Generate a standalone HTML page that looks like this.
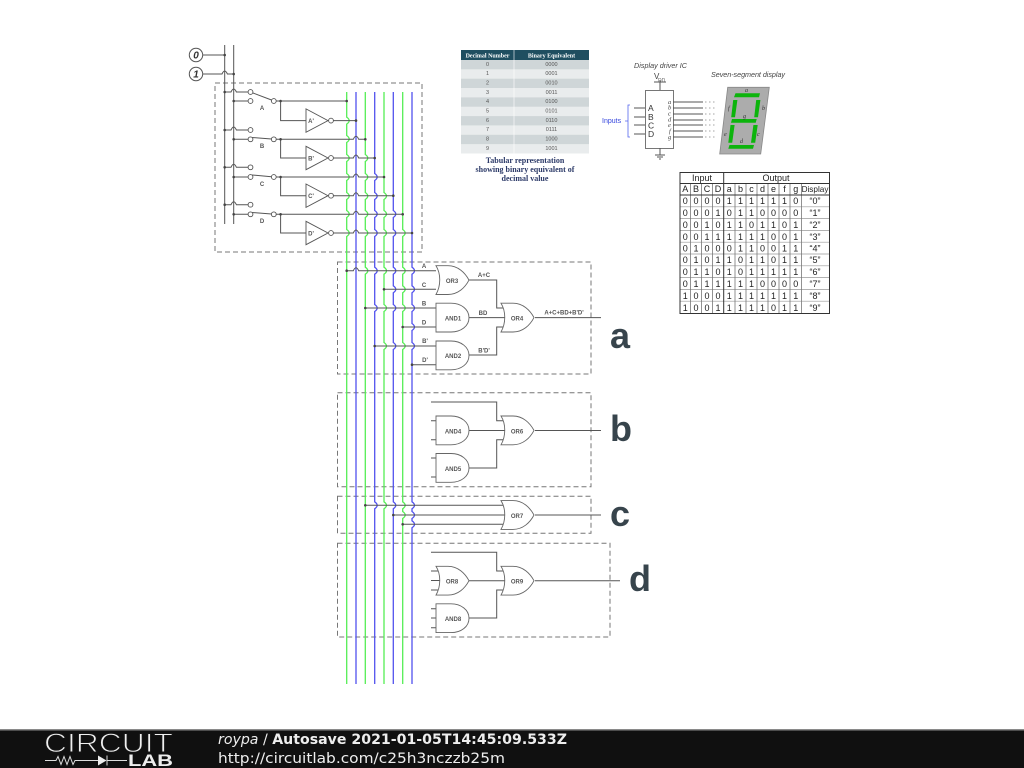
<!DOCTYPE html>
<html><head><meta charset="utf-8"><style>
html,body{margin:0;padding:0;background:#fff;width:1024px;height:768px;overflow:hidden}
svg{display:block}
text{font-family:"Liberation Sans",sans-serif}
g.ser text{font-family:"Liberation Serif",serif}
g.dj text,text.dj{font-family:"DejaVu Sans",sans-serif}
.w{fill:none;stroke:#555;stroke-width:1}
.box{fill:none;stroke:#777;stroke-width:1;stroke-dasharray:5 3}
.g{fill:none;stroke:#55ee55;stroke-width:1.3}
.b{fill:none;stroke:#5252ee;stroke-width:1.3}
.gate{fill:#fff;stroke:#666;stroke-width:.9}
.l{font-size:6px;font-weight:bold;fill:#555;text-anchor:middle}
.d{fill:#444}
.t{font-size:9px;fill:#222}
.tc{text-anchor:middle}
.s{fill:#0cb40c}
</style></head><body>
<svg width="1024" height="768" viewBox="0 0 1024 768" xmlns="http://www.w3.org/2000/svg">
<defs>
<path id="and" d="M0 0H15C25 0 33 6 33 14.4C33 23 25 28.8 15 28.8H0Z"/>
<path id="or" d="M0 0H12C22 0 29 7 33 14.4C29 22 22 28.8 12 28.8H0C5 20 5 8 0 0Z"/>
<path id="inv" d="M0 0L22 11.7L0 23.4Z"/>
<circle id="dot" r="1.3"/>
<circle id="o" r="2.4"/>
</defs>
<rect width="1024" height="768" fill="#fff"/>

<!-- dashed boxes -->
<rect class="box" x="215" y="83" width="207" height="169"/>
<rect class="box" x="337.5" y="262" width="253.5" height="112"/>
<rect class="box" x="337.5" y="392.7" width="253.5" height="94"/>
<rect class="box" x="337.5" y="496.3" width="253.5" height="37"/>
<rect class="box" x="337.5" y="543.3" width="272.5" height="93.7"/>

<!-- buses -->
<path class="g" d="M346.7 92V117.1q5 3.5 0 7V135.5q5 3.5 0 7V154.5q5 3.5 0 7V173.5q5 3.5 0 7V192.5q5 3.5 0 7V210.5q5 3.5 0 7V229.5q5 3.5 0 7V684"/>
<path class="b" d="M356 92V684"/>
<path class="g" d="M365.3 92V154.5q5 3.5 0 7V173.5q5 3.5 0 7V192.5q5 3.5 0 7V210.5q5 3.5 0 7V229.5q5 3.5 0 7V267.2q5 3.5 0 7V684"/>
<path class="b" d="M374.7 92V173.5q5 3.5 0 7V192.5q5 3.5 0 7V210.5q5 3.5 0 7V229.5q5 3.5 0 7V267.2q5 3.5 0 7V304.5q5 3.5 0 7V501.8q5 3.5 0 7V684"/>
<path class="g" d="M384 92V192.5q5 3.5 0 7V210.5q5 3.5 0 7V229.5q5 3.5 0 7V267.2q5 3.5 0 7V304.5q5 3.5 0 7V342.5q5 3.5 0 7V501.8q5 3.5 0 7V684"/>
<path class="b" d="M393.3 92V210.5q5 3.5 0 7V229.5q5 3.5 0 7V267.2q5 3.5 0 7V285.8q5 3.5 0 7V304.5q5 3.5 0 7V342.5q5 3.5 0 7V501.8q5 3.5 0 7V684"/>
<path class="g" d="M402.7 92V229.5q5 3.5 0 7V267.2q5 3.5 0 7V285.8q5 3.5 0 7V304.5q5 3.5 0 7V342.5q5 3.5 0 7V501.8q5 3.5 0 7V511.5q5 3.5 0 7V684"/>
<path class="b" d="M412 92V267.2q5 3.5 0 7V285.8q5 3.5 0 7V304.5q5 3.5 0 7V323.5q5 3.5 0 7V342.5q5 3.5 0 7V501.8q5 3.5 0 7V511.5q5 3.5 0 7V520.8q5 3.5 0 7V684"/>

<!-- rails and inputs -->
<path class="w" d="M224.7 45V224M233.7 45V224M202.5 55H225M202.5 74H222q2.7-6 5.4 0H234"/>
<g class="d"><use href="#dot" x="224.7" y="55"/><use href="#dot" x="233.7" y="74"/></g>
<g fill="#fff" stroke="#555" stroke-width="1"><circle cx="196" cy="55" r="6.7"/><circle cx="196" cy="74" r="6.7"/></g>
<g font-size="10" font-style="italic" font-weight="bold" fill="#333" text-anchor="middle"><text x="196" y="58.7">0</text><text x="196" y="77.7">1</text></g>

<!-- switches -->
<path class="w" d="M224.7 92H231q2.7-6 5.4 0H248M233.7 101H248M253 93L271.5 100M276 101H347M280.6 101V120.6H306M333.5 120.6H356"/>
<path class="w" d="M224.7 130H231q2.7-6 5.4 0H248M233.7 139.3H248M252 137.5L271.5 139M276 139.3H353.3q2.7-6 5.4 0H365.3M280.6 139.3V158H306M333.5 158H353.3q2.7-6 5.4 0H374.7"/>
<path class="w" d="M224.7 167.3H231q2.7-6 5.4 0H248M233.7 177H248M252 175L271.5 176.7M276 177H353.3q2.7-6 5.4 0H384M280.6 177V195.7H306M333.5 195.7H353.3q2.7-6 5.4 0H393.3"/>
<path class="w" d="M224.7 204.7H231q2.7-6 5.4 0H248M233.7 214.3H248M252 212.5L271.5 214M276 214.3H353.3q2.7-6 5.4 0H402.7M280.6 214.3V233H306M333.5 233H353.3q2.7-6 5.4 0H412"/>
<g class="gate" style="fill:#fff;stroke:#555">
<use href="#o" x="250.5" y="92"/><use href="#o" x="250.5" y="101"/><use href="#o" x="273.8" y="101"/>
<use href="#o" x="250.5" y="130"/><use href="#o" x="250.5" y="139.3"/><use href="#o" x="273.8" y="139.3"/>
<use href="#o" x="250.5" y="167.3"/><use href="#o" x="250.5" y="177"/><use href="#o" x="273.8" y="177"/>
<use href="#o" x="250.5" y="204.7"/><use href="#o" x="250.5" y="214.3"/><use href="#o" x="273.8" y="214.3"/>
<use href="#inv" x="306" y="108.9"/><use href="#inv" x="306" y="146.3"/><use href="#inv" x="306" y="184"/><use href="#inv" x="306" y="221.3"/>
<use href="#o" x="331" y="120.6"/><use href="#o" x="331" y="158"/><use href="#o" x="331" y="195.7"/><use href="#o" x="331" y="233"/>
</g>
<g class="d">
<use href="#dot" x="224.7" y="92"/><use href="#dot" x="233.7" y="101"/><use href="#dot" x="280.6" y="101"/><use href="#dot" x="346.7" y="101"/><use href="#dot" x="356" y="120.6"/>
<use href="#dot" x="224.7" y="130"/><use href="#dot" x="233.7" y="139.3"/><use href="#dot" x="280.6" y="139.3"/><use href="#dot" x="365.3" y="139.3"/><use href="#dot" x="374.7" y="158"/>
<use href="#dot" x="224.7" y="167.3"/><use href="#dot" x="233.7" y="177"/><use href="#dot" x="280.6" y="177"/><use href="#dot" x="384" y="177"/><use href="#dot" x="393.3" y="195.7"/>
<use href="#dot" x="224.7" y="204.7"/><use href="#dot" x="233.7" y="214.3"/><use href="#dot" x="280.6" y="214.3"/><use href="#dot" x="402.7" y="214.3"/><use href="#dot" x="412" y="233"/>
</g>
<g class="l">
<text x="262" y="110">A</text><text x="262" y="148">B</text><text x="262" y="186">C</text><text x="262" y="223">D</text>
<text x="311" y="123">A'</text><text x="311" y="160.5">B'</text><text x="311" y="198">C'</text><text x="311" y="235.5">D'</text>
</g>

<!-- section a -->
<path class="w" d="M346.7 270.7H353.3q2.7-6 5.4 0H436M384 289.3H436M365.3 308H436M402.7 327H436M374.7 346H436M412 364.7H436"/>
<path class="w" d="M469 280H496.7V308H504M469 317.6H506M469 355H496.7V327H504M535 317.6H601"/>
<g class="d"><use href="#dot" x="346.7" y="270.7"/><use href="#dot" x="384" y="289.3"/><use href="#dot" x="365.3" y="308"/><use href="#dot" x="402.7" y="327"/><use href="#dot" x="374.7" y="346"/><use href="#dot" x="412" y="364.7"/></g>
<g class="gate"><use href="#or" x="436" y="265.7"/><use href="#and" x="436" y="303.2"/><use href="#and" x="436" y="341"/><use href="#or" x="501" y="303.2"/></g>
<g class="l">
<text x="452" y="283">OR3</text><text x="453" y="320.5">AND1</text><text x="453" y="358">AND2</text><text x="517" y="320.5">OR4</text>
<text x="424" y="268">A</text><text x="424" y="287">C</text><text x="424" y="305.5">B</text><text x="424" y="324.5">D</text><text x="425" y="343">B'</text><text x="425" y="362">D'</text>
<text x="484" y="277">A+C</text><text x="483" y="315">BD</text><text x="484" y="352.5">B'D'</text><text x="564" y="314.5">A+C+BD+B'D'</text>
</g>

<!-- section b -->
<path class="w" d="M431 402H496.7V420.7H504M431 420.7H436M431 439.7H436M431 458H436M431 477H436M469 430.5H506M469 468H496.7V439.7H504M535 430.5H601"/>
<g class="gate"><use href="#and" x="436" y="416"/><use href="#and" x="436" y="453.5"/><use href="#or" x="501" y="416"/></g>
<g class="l"><text x="453" y="433.5">AND4</text><text x="453" y="471">AND5</text><text x="517" y="433.5">OR6</text></g>

<!-- section c -->
<path class="w" d="M365.3 505.3H504M393.3 515H506M402.7 524.3H504M535 515H601"/>
<g class="d"><use href="#dot" x="365.3" y="505.3"/><use href="#dot" x="393.3" y="515"/><use href="#dot" x="402.7" y="524.3"/></g>
<g class="gate"><use href="#or" x="501" y="500.6"/></g>
<text class="l" x="517" y="518">OR7</text>

<!-- section d -->
<path class="w" d="M431 552.3H496.7V571H504M431 571H439M431 580.5H440M431 590H439M469 580.7H506M431 608.7H436M431 618H436M431 627.7H436M469 618H496.7V590H504M535 580.7H620"/>
<g class="gate"><use href="#or" x="436" y="566.3"/><use href="#and" x="436" y="603.8"/><use href="#or" x="501" y="566.3"/></g>
<g class="l"><text x="452" y="583.7">OR8</text><text x="453" y="621">AND8</text><text x="517" y="583.7">OR9</text></g>

<!-- letters -->
<g font-weight="bold" font-size="36" fill="#37444c">
<text x="610" y="348">a</text>
<text x="610" y="441">b</text>
<text x="610" y="526">c</text>
<text x="629" y="591">d</text>
</g>

<!-- binary table -->
<g style="filter:blur(.3px)">
<rect x="461" y="50" width="128" height="10" fill="#1f4e60"/>
<rect x="461" y="60" width="128" height="93.5" fill="#e9eced"/>
<g fill="#cfd6d8"><rect x="461" y="60" width="128" height="9.3"/><rect x="461" y="78.7" width="128" height="9.3"/><rect x="461" y="97.4" width="128" height="9.3"/><rect x="461" y="116.1" width="128" height="9.3"/><rect x="461" y="134.8" width="128" height="9.3"/></g>
<path d="M514 50V153.5" stroke="#fff" stroke-width=".6"/>
<g class="ser" font-size="6" font-weight="bold" fill="#fff" text-anchor="middle"><text x="487.5" y="57.5">Decimal Number</text><text x="551.5" y="57.5">Binary Equivalent</text></g>
<g font-size="5.5" fill="#555" text-anchor="middle">
<text x="487.5" y="66">0</text><text x="551.5" y="66">0000</text>
<text x="487.5" y="75">1</text><text x="551.5" y="75">0001</text>
<text x="487.5" y="84.5">2</text><text x="551.5" y="84.5">0010</text>
<text x="487.5" y="94">3</text><text x="551.5" y="94">0011</text>
<text x="487.5" y="103">4</text><text x="551.5" y="103">0100</text>
<text x="487.5" y="112.5">5</text><text x="551.5" y="112.5">0101</text>
<text x="487.5" y="122">6</text><text x="551.5" y="122">0110</text>
<text x="487.5" y="131">7</text><text x="551.5" y="131">0111</text>
<text x="487.5" y="140.5">8</text><text x="551.5" y="140.5">1000</text>
<text x="487.5" y="150">9</text><text x="551.5" y="150">1001</text>
</g>
<g class="ser" font-size="8" font-weight="bold" fill="#2c3a68" text-anchor="middle"><text x="525" y="163">Tabular representation</text><text x="525" y="172">showing binary equivalent of</text><text x="525" y="181">decimal value</text></g>
</g>

<!-- driver + seven seg -->
<g style="filter:blur(.3px)">
<text x="634" y="68" font-size="7.2" font-style="italic" fill="#444" textLength="53">Display driver IC</text>
<text x="711" y="77" font-size="7.2" font-style="italic" fill="#444" textLength="74">Seven-segment display</text>
<rect x="645.5" y="90.5" width="28" height="58" fill="#fff" stroke="#555" stroke-width=".8"/>
<path class="w" d="M660 80V90M654 82H666M660 148V155M655 155H665M657 157H663M659 159H661M634 108H645M634 117H645M634 125H645M634 134H645M673 102H703M673 108H703M673 114H703M673 120H703M673 125H703M673 131H703M673 137H703"/>
<path d="M705 102H716M705 108H716M705 114H716M705 120H716M705 125H716M705 131H716M705 137H716" stroke="#888" stroke-width=".8" stroke-dasharray="1.5 2.5" fill="none"/>
<text x="654" y="79" font-size="8" fill="#444">V</text><text x="658" y="82" font-size="5" fill="#666">DD</text>
<g font-size="8.5" fill="#333"><text x="648" y="111">A</text><text x="648" y="120">B</text><text x="648" y="128.5">C</text><text x="648" y="137">D</text></g>
<g class="ser" font-size="6.5" font-style="italic" fill="#444"><text x="668" y="104">a</text><text x="668" y="109.5">b</text><text x="668" y="115.5">c</text><text x="668" y="121.5">d</text><text x="668" y="127">e</text><text x="669" y="133">f</text><text x="668" y="139">g</text></g>
<path d="M630 105H628V137H630M628 121H625" fill="none" stroke="#5566ee" stroke-width=".8"/>
<text x="602" y="123" font-size="7" fill="#3344dd">Inputs</text>
<polygon points="727.7,87.3 769.3,87.3 760.7,154 719.7,154" fill="#acacac" stroke="#888" stroke-width=".8"/>
<polygon class="s" points="735.5,93.3 760,93.3 759,97.3 734,97.3"/>
<polygon class="s" points="733.2,100 737.4,100 735,117.3 731.2,117.3"/>
<polygon class="s" points="756.2,100 760.4,100 758,117.3 754.2,117.3"/>
<polygon class="s" points="732,119 756.7,119 755.7,122.7 731,122.7"/>
<polygon class="s" points="730.5,125 734.6,125 732.2,142.7 728.3,142.7"/>
<polygon class="s" points="753.4,125 757.7,125 755.2,142.7 751,142.7"/>
<polygon class="s" points="729.5,145 754,145 753,148.7 728.3,148.7"/>
<g class="ser" font-size="6" font-style="italic" fill="#333"><text x="745" y="92">a</text><text x="728" y="110">f</text><text x="762" y="110">b</text><text x="743" y="118">g</text><text x="724" y="136">e</text><text x="757" y="136">c</text><text x="740" y="143">d</text></g>
</g>

<!-- truth table -->
<g style="filter:blur(.25px)">
<path fill="none" stroke="#999" stroke-width=".7" d="M680 206.8H829M680 218.6H829M680 230.4H829M680 242.2H829M680 254H829M680 265.8H829M680 277.6H829M680 289.4H829M680 301.2H829"/>
<path fill="none" stroke="#777" stroke-width=".8" d="M690.5 183.5V313.5M701.5 183.5V313.5M712.5 183.5V313.5M735 183.5V313.5M746 183.5V313.5M757 183.5V313.5M768 183.5V313.5M779 183.5V313.5M790 183.5V313.5M801.5 183.5V313.5"/>
<path fill="none" stroke="#333" stroke-width="1" d="M680 172.5H829.5V313.5H680ZM680 183.5H829.5M680 195H829.5M723.7 172.5V313.5"/>
<g class="t">
<text class="tc" x="702" y="181">Input</text><text class="tc" x="776" y="181">Output</text>
<text class="tc" x="685.3 696 707 718 729.3 740.5 751.5 762.5 773.5 784.5 795.7" y="192">ABCDabcdefg</text><text class="tc" x="815" y="192" font-size="8.2">Display</text>
<text class="tc" x="685.3 696 707 718 729.3 740.5 751.5 762.5 773.5 784.5 795.7" y="204">00001111110</text><text class="tc" x="815" y="204">“0”</text>
<text class="tc" x="685.3 696 707 718 729.3 740.5 751.5 762.5 773.5 784.5 795.7" y="216">00010110000</text><text class="tc" x="815" y="216">“1”</text>
<text class="tc" x="685.3 696 707 718 729.3 740.5 751.5 762.5 773.5 784.5 795.7" y="228">00101101101</text><text class="tc" x="815" y="228">“2”</text>
<text class="tc" x="685.3 696 707 718 729.3 740.5 751.5 762.5 773.5 784.5 795.7" y="240">00111111001</text><text class="tc" x="815" y="240">“3”</text>
<text class="tc" x="685.3 696 707 718 729.3 740.5 751.5 762.5 773.5 784.5 795.7" y="251.5">01000110011</text><text class="tc" x="815" y="251.5">“4”</text>
<text class="tc" x="685.3 696 707 718 729.3 740.5 751.5 762.5 773.5 784.5 795.7" y="263">01011011011</text><text class="tc" x="815" y="263">“5”</text>
<text class="tc" x="685.3 696 707 718 729.3 740.5 751.5 762.5 773.5 784.5 795.7" y="275">01101011111</text><text class="tc" x="815" y="275">“6”</text>
<text class="tc" x="685.3 696 707 718 729.3 740.5 751.5 762.5 773.5 784.5 795.7" y="287">01111110000</text><text class="tc" x="815" y="287">“7”</text>
<text class="tc" x="685.3 696 707 718 729.3 740.5 751.5 762.5 773.5 784.5 795.7" y="299">10001111111</text><text class="tc" x="815" y="299">“8”</text>
<text class="tc" x="685.3 696 707 718 729.3 740.5 751.5 762.5 773.5 784.5 795.7" y="311">10011111011</text><text class="tc" x="815" y="311">“9”</text>
</g>
</g>

<!-- footer -->
<rect x="0" y="729" width="1024" height="39" fill="#101010"/>
<rect x="0" y="729" width="1024" height="1.5" fill="#8a8a8a"/>
<text x="44" y="752" font-size="27" fill="#f0f0f0" stroke="#151515" stroke-width="1" textLength="129" lengthAdjust="spacingAndGlyphs">CIRCUIT</text>
<path d="M45 760.5H56l2-4 3 8 3-8 3 8 3-8 3 8 2-4H98M107 755.5v10M107 760.5H127" fill="none" stroke="#ddd" stroke-width="1"/>
<path d="M98 755.5v10l8.5-5z" fill="#eee"/>
<text x="128" y="766" font-size="17" font-weight="bold" fill="#eee" textLength="45" lengthAdjust="spacingAndGlyphs">LAB</text>
<text class="dj" x="218" y="744" font-size="14.5" fill="#eee" textLength="349" lengthAdjust="spacingAndGlyphs"><tspan font-style="italic">roypa</tspan> / <tspan font-weight="bold">Autosave 2021-01-05T14:45:09.533Z</tspan></text>
<text class="dj" x="218" y="763" font-size="14.5" fill="#eee" textLength="287" lengthAdjust="spacingAndGlyphs">http://circuitlab.com/c25h3nczzb25m</text>
</svg>
</body></html>
